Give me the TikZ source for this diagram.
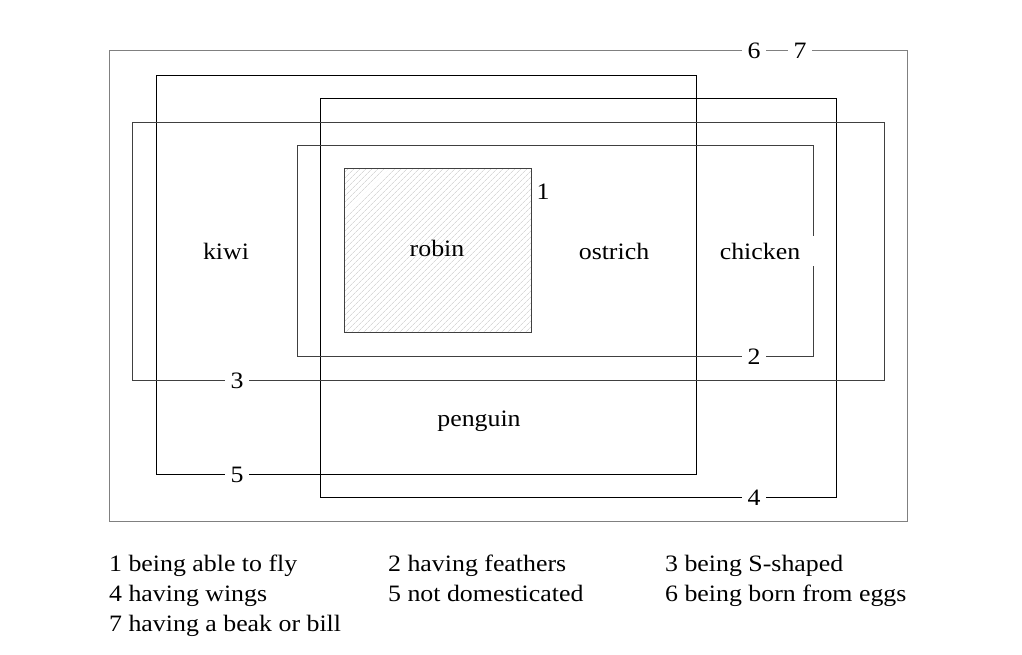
\documentclass[tikz,border=0pt]{standalone}
\usepackage{fontspec}
\setmainfont{Liberation Serif}[FakeStretch=1.1]
\usetikzlibrary{patterns.meta}
\begin{document}
\begin{tikzpicture}[x=1pt,y=-1pt,
  set/.style={line width=1pt,draw=black},
  lightset/.style={line width=1pt,draw=black!75},
  tag/.style={fill=white,inner xsep=6pt,inner ysep=1pt,font=\fontsize{23.5}{26}\selectfont},
  word/.style={font=\fontsize{23.5}{26}\selectfont},
  legend/.style={anchor=base west,inner sep=0pt,font=\fontsize{23.5}{26}\selectfont}]
\useasboundingbox (0,0) rectangle (1022,654);
% outer set 6-7
\draw[line width=1pt,draw=black!50] (109,50) rectangle (907,521);
% set 5
\draw[set] (156,75) rectangle (696,474);
% set 4
\draw[set] (320,98) rectangle (836,497);
% set 3
\draw[lightset] (132,122) rectangle (884,380);
% set 2
\draw[lightset] (297,145) rectangle (813,356);
% set 1
\draw[lightset,pattern={Lines[angle=45,distance=4pt,line width=0.7pt]},pattern color=black!15] (344,168) rectangle (531,332);
\node[word] (one) at (543,192) {1};
% edge labels
\node[tag] (six) at (754,51) {6};
\node[tag] (seven) at (800,51) {7};
\node[tag] (two) at (754,357) {2};
\node[tag] (three) at (237,381) {3};
\node[tag] (five) at (237,475) {5};
\node[tag] (four) at (754,498) {4};
% region labels
\node[word] (kiwi) at (226,251) {kiwi};
\node[word] (robin) at (437,248) {robin};
\node[word] (ostrich) at (614,251) {ostrich};
\node[word,fill=white,inner xsep=14pt,inner ysep=7pt] (chicken) at (760,251) {chicken};
\node[word] (penguin) at (479,421) {penguin};
% legend
\node[legend] (l1) at (109,571) {1 being able to fly};
\node[legend] (l2) at (388,571) {2 having feathers};
\node[legend] (l3) at (665,571) {3 being S-shaped};
\node[legend] (l4) at (109,601) {4 having wings};
\node[legend] (l5) at (388,601) {5 not domesticated};
\node[legend] (l6) at (665,601) {6 being born from eggs};
\node[legend] (l7) at (109,631) {7 having a beak or bill};
\end{tikzpicture}
\end{document}
